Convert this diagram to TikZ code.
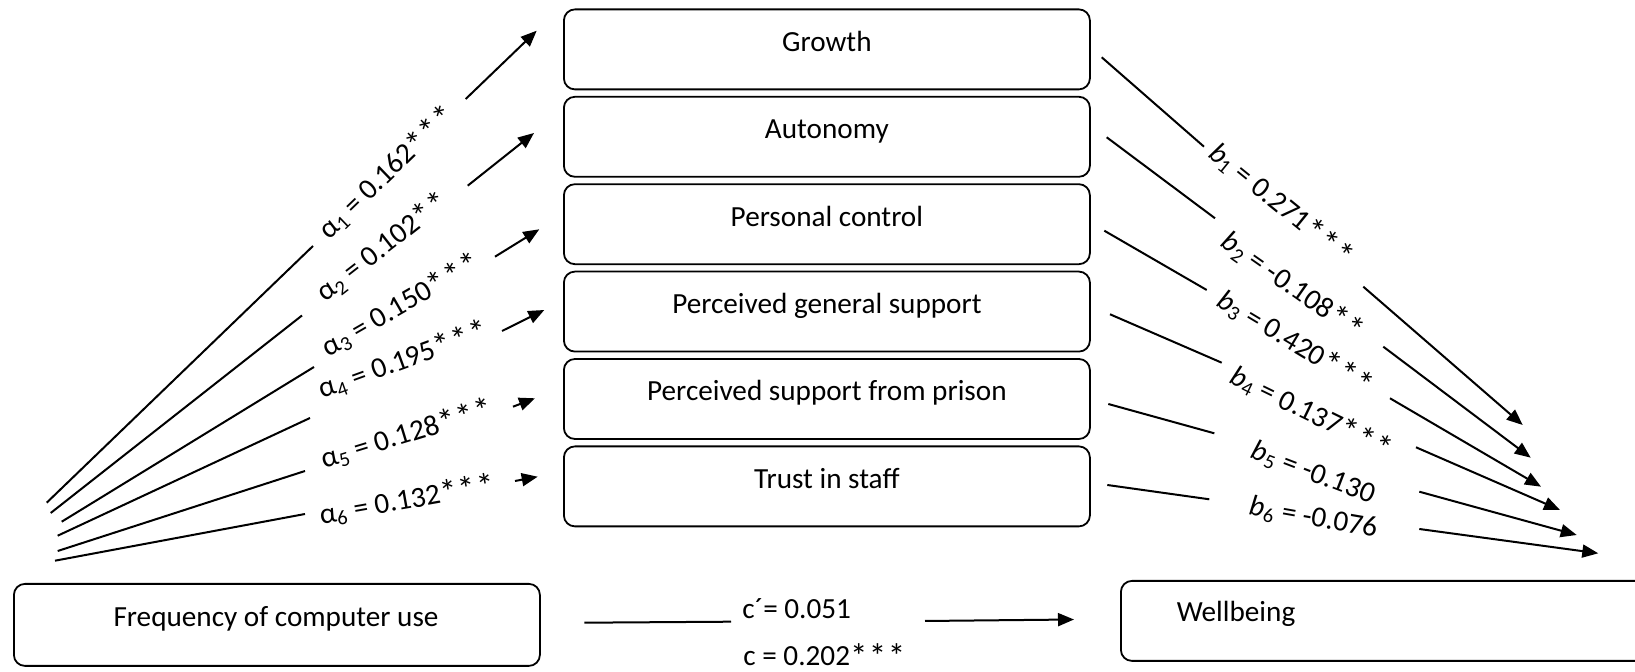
\documentclass[tikz,border=0pt]{standalone}
\usepackage{fontspec}
\setmainfont{Carlito}
\usetikzlibrary{arrows.meta}
% significance star, a little larger and wider than the plain glyph
\newcommand\sigstar{\raisebox{-0.1em}{\scalebox{1.2}{*}}\kern0.05em}
\newcommand\twostars{\sigstar\sigstar}
\newcommand\threestars{\sigstar\sigstar\sigstar}

\begin{document}
\begin{tikzpicture}[x=0.5pt,y=-0.5pt,
  every node/.style={font=\fontsize{14.6}{17}\selectfont},
  box/.style={draw, line width=0.9pt, rounded corners=5.5pt,
    minimum width=263pt, minimum height=40pt, inner sep=0pt, anchor=north west},
  boxtext/.style={anchor=base, inner sep=0pt},
  link/.style={line width=1pt},
  tipline/.style={line width=1pt, -{Triangle[length=8pt,width=6.5pt]}},
  coef/.style={inner sep=0pt, anchor=center}
]
\useasboundingbox (0,0) rectangle (1635,672);
\clip (0,0) rectangle (1635,672);

% mediators
\node[box] (m1) at (563,8.5) {};
\node[box] (m2) at (563,95.9) {};
\node[box] (m3) at (563,183.3) {};
\node[box] (m4) at (563,270.7) {};
\node[box] (m5) at (563,358.1) {};
\node[box] (m6) at (563,445.5) {};
\node[boxtext] (m1t) at ([yshift=-1pt]m1.center) {Growth};
\node[boxtext] (m2t) at ([yshift=-1pt]m2.center) {Autonomy};
\node[boxtext] (m3t) at ([yshift=-1pt]m3.center) {Personal control};
\node[boxtext] (m4t) at ([yshift=-1pt]m4.center) {Perceived general support};
\node[boxtext] (m5t) at ([yshift=-1pt]m5.center) {Perceived support from prison};
\node[boxtext] (m6t) at ([yshift=-1pt]m6.center) {Trust in staff};

% predictor and outcome
\node[box, minimum height=41pt] (x) at (13,583) {};
\node[boxtext] (xt) at (276,627) {Frequency of computer use};
\node[box] (y) at (1120,580) {};
\node[boxtext] (yt) at (1236,621.5) {Wellbeing};

% a paths: predictor -> mediators
\coordinate (a1s) at (46.7,502.7); \coordinate (a1m) at (313,246);
\coordinate (a1n) at (465.7,99);   \coordinate (a1t) at (536.7,30.7);
\coordinate (a2s) at (50.7,513);   \coordinate (a2m) at (302,315.5);
\coordinate (a2n) at (467.7,185.7); \coordinate (a2t) at (534,133);
\coordinate (a3s) at (61.7,521.7); \coordinate (a3m) at (314,367);
\coordinate (a3n) at (495,256.7);  \coordinate (a3t) at (539.3,229.3);
\coordinate (a4s) at (57.7,535.7); \coordinate (a4m) at (310,418);
\coordinate (a4n) at (502,331);    \coordinate (a4t) at (544.3,310);
\coordinate (a5s) at (57.7,551);   \coordinate (a5m) at (305,471);
\coordinate (a5n) at (513,406.7);  \coordinate (a5t) at (535,398.3);
\coordinate (a6s) at (55,560.7);   \coordinate (a6m) at (305,514);
\coordinate (a6n) at (515,481);    \coordinate (a6t) at (537.7,476.7);

\foreach \i in {1,...,6}{
  \draw[link] (a\i s) -- (a\i m);
  \draw[tipline] (a\i n) -- (a\i t);
}

\node[coef, rotate=44] (la1) at (387.5,171.7) {α\textsubscript{1} = 0.162\threestars};
\node[coef, rotate=38] (la2) at (383.3,246.7) {α\textsubscript{2} = 0.102\twostars};
\node[coef, rotate=30] (la3) at (401.7,305) {α\textsubscript{3} = 0.150\threestars};
\node[coef, rotate=20] (la4) at (404,360) {α\textsubscript{4} = 0.195\threestars};
\node[coef, rotate=17] (la5) at (407.5,434) {α\textsubscript{5} = 0.128\threestars};
\node[coef, rotate=10] (la6) at (408,500) {α\textsubscript{6} = 0.132\threestars};

% b paths: mediators -> outcome
\coordinate (b1s) at (1101.7,57.3);  \coordinate (b1m) at (1204,146.7);
\coordinate (b1n) at (1363.3,286.7); \coordinate (b1t) at (1522.7,425);
\coordinate (b2s) at (1106.7,137.3); \coordinate (b2m) at (1215,218.3);
\coordinate (b2n) at (1383.3,346.7); \coordinate (b2t) at (1530.7,457.7);
\coordinate (b3s) at (1104.3,230.7); \coordinate (b3m) at (1206.7,290);
\coordinate (b3n) at (1390,398.3);   \coordinate (b3t) at (1541,486.7);
\coordinate (b4s) at (1110,314.3);   \coordinate (b4m) at (1221.7,362.7);
\coordinate (b4n) at (1416,447.3);   \coordinate (b4t) at (1560,510);
\coordinate (b5s) at (1108.3,404);   \coordinate (b5m) at (1214.3,433.3);
\coordinate (b5n) at (1419.3,491.7); \coordinate (b5t) at (1576.7,535);
\coordinate (b6s) at (1107.3,485);   \coordinate (b6m) at (1209.3,499.3);
\coordinate (b6n) at (1419.3,529);   \coordinate (b6t) at (1598.3,553.3);

\foreach \i in {1,...,6}{
  \draw[link] (b\i s) -- (b\i m);
  \draw[tipline] (b\i n) -- (b\i t);
}

\node[coef, rotate=-39] (lb1) at (1281.7,205) {\textit{b}\textsubscript{1} = 0.271\threestars};
\node[coef, rotate=-35] (lb2) at (1293.3,286.7) {\textit{b}\textsubscript{2} = -0.108\twostars};
\node[coef, rotate=-31] (lb3) at (1295.7,343.3) {\textit{b}\textsubscript{3} = 0.420\threestars};
\node[coef, rotate=-26] (lb4) at (1311.7,413.3) {\textit{b}\textsubscript{4} = 0.137\threestars};
\node[coef, rotate=-21] (lb5) at (1313.3,473.3) {\textit{b}\textsubscript{5} = -0.130};
\node[coef, rotate=-10] (lb6) at (1313.3,518.3) {\textit{b}\textsubscript{6} = -0.076};

% c path: predictor -> outcome
\coordinate (c1) at (584.3,622.7); \coordinate (c2) at (731,621.7);
\coordinate (c3) at (925,621);     \coordinate (c4) at (1074,619.5);
\draw[link] (c1) -- (c2);
\draw[tipline] (c3) -- (c4);
\node[anchor=base west, inner sep=0pt] (lcp) at (742,618.3) {c´= 0.051};
\node[anchor=base west, inner sep=0pt] (lc) at (743,666) {c = 0.202\threestars};
\end{tikzpicture}
\end{document}
